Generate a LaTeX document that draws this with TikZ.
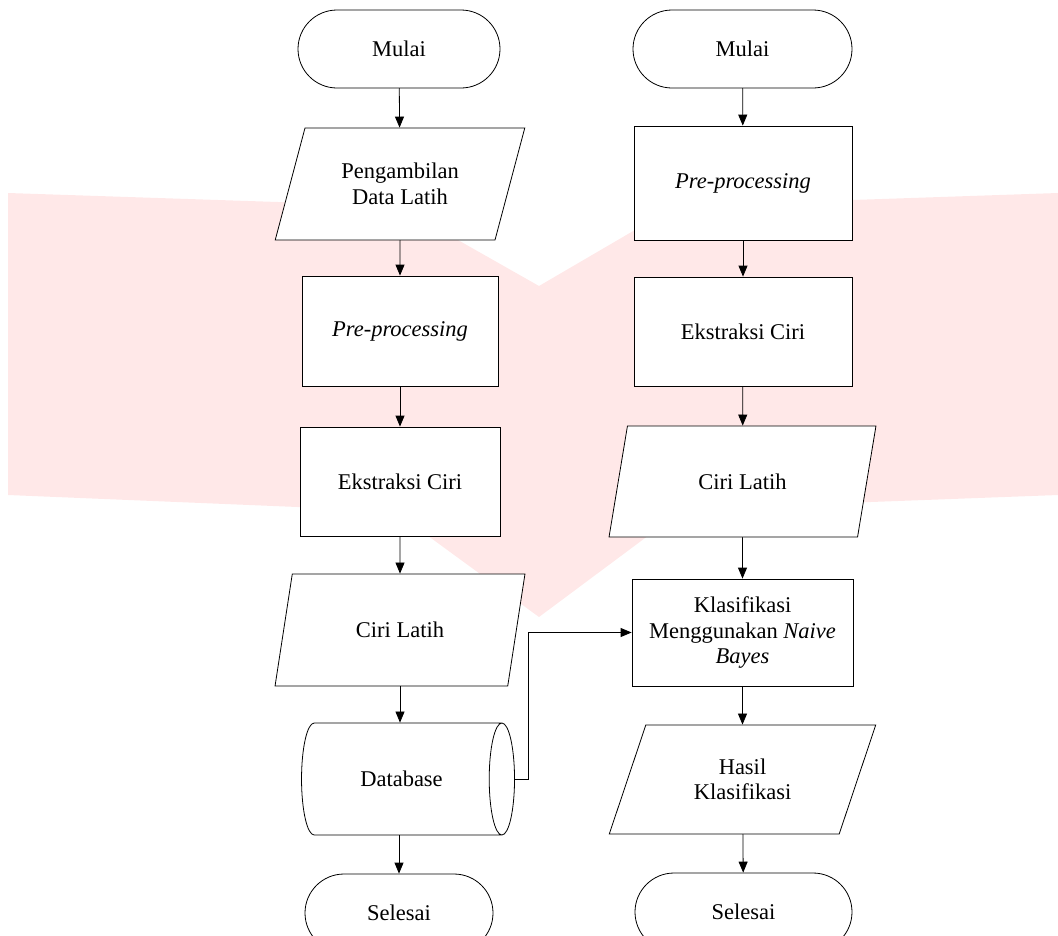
\documentclass[tikz,border=0pt]{standalone}
\usepackage{fontspec}
\setmainfont{Liberation Serif}
\usetikzlibrary{shapes.geometric,shapes.misc,arrows.meta}

\begin{document}
\begin{tikzpicture}
	[x=1pt,y=-1pt,line cap=round,
	%Styles
	every node/.style={font=\fontsize{22.5}{25.5}\selectfont,line width=0.8pt},
	terminal/.style={draw,fill=white,rounded rectangle,minimum height=78pt,inner sep=0pt},
	process/.style={draw,fill=white,rectangle,inner sep=0pt,align=center},
	data/.style={draw,fill=white,trapezium,trapezium left angle=66,trapezium right angle=114,trapezium stretches=true,inner sep=0pt,align=center},
	storage/.style={draw,fill=white,cylinder,aspect=1.6,inner sep=0pt},
	flow/.style={-{Triangle[length=11pt,width=9pt]},line width=0.8pt}
	]
	
	%Colors
	\colorlet{watermark}{red!9}	%background logo
	
	%The graphic
	\clip (0,0) rectangle (1058,935);
	\fill[watermark] (8,193) -- (398,206) -- (539,286) -- (676,206) -- (1058,193) -- (1058,495)
		-- (684,509) -- (539,617) -- (394,511) -- (8,495) -- cycle;
	
	%Training
	\node[terminal,minimum width=202pt] (start1) at (399,49) {Mulai};
	\node[data,minimum width=250pt,minimum height=112pt] (input1) at (400,184) {Pengambilan\\Data Latih};
	\node[process,minimum width=196pt,minimum height=110pt] (pre1) at (400,331) {\textit{Pre-processing}};
	\node[process,minimum width=200pt,minimum height=109pt] (feat1) at (400,481.5) {Ekstraksi Ciri};
	\node[data,minimum width=250pt,minimum height=112pt] (train1) at (400,630) {Ciri Latih};
	\node[storage,minimum width=112pt,minimum height=213pt] (db) at (401.5,779) {Database};
	\node[terminal,minimum width=188pt] (end1) at (399,913) {Selesai};
	
	%Testing
	\node[terminal,minimum width=219pt] (start2) at (742.5,49) {Mulai};
	\node[process,minimum width=218pt,minimum height=114pt] (pre2) at (743,183) {\textit{Pre-processing}};
	\node[process,minimum width=218pt,minimum height=109pt] (feat2) at (743,331.5) {Ekstraksi Ciri};
	\node[data,minimum width=267pt,minimum height=111pt] (train2) at (742.5,481.5) {Ciri Latih};
	\node[process,minimum width=221pt,minimum height=107pt] (nb) at (742.5,632.5) {Klasifikasi\\Menggunakan \textit{Naive}\\\textit{Bayes}};
	\node[data,minimum width=267pt,minimum height=109pt] (result) at (742.5,779.5) {Hasil\\Klasifikasi};
	\node[terminal,minimum width=217pt] (end2) at (743.5,912) {Selesai};
	
	\draw[flow] (start1) -- (input1);
	\draw[flow] (input1) -- (pre1);
	\draw[flow] (pre1) -- (feat1);
	\draw[flow] (feat1) -- (train1);
	\draw[flow] (train1.south) -- (train1.south |- db.north);
	\draw[flow] (db.south -| end1.north) -- (end1.north);
	
	\draw[flow] (start2) -- (pre2);
	\draw[flow] (pre2) -- (feat2);
	\draw[flow] (feat2) -- (train2);
	\draw[flow] (train2) -- (nb);
	\draw[flow] (nb) -- (result);
	\draw[flow] (result) -- (end2);
	
	\draw[flow] (db.east) -- ++(13,0) |- (nb.west);
\end{tikzpicture}
\end{document}
